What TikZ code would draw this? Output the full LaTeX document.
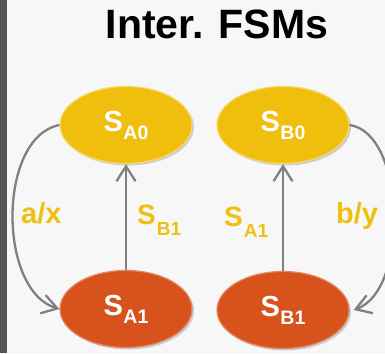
\documentclass[tikz,border=0pt]{standalone}
\usepackage{fontspec}
\setmainfont{Liberation Sans}
\usetikzlibrary{arrows.meta,shadows,shapes.geometric}

\definecolor{pagebg}{HTML}{F7F7F7}
\definecolor{sidebar}{HTML}{555555}
\definecolor{stateyellow}{HTML}{F0BE0C}
\definecolor{stateorange}{HTML}{D8521C}
\definecolor{linkgray}{HTML}{808080}
\definecolor{labelyellow}{HTML}{EFC010}

% state name: big S with a lowered two-letter index
\newcommand\statename[1]{{\fontsize{29}{29}\selectfont S\kern0.5pt\raisebox{-8pt}{\fontsize{19.5}{19.5}\selectfont #1}}}
% condition label: S with a lowered index
\newcommand\condname[1]{{\fontsize{28}{28}\selectfont S\kern1pt\raisebox{-11pt}{\fontsize{19}{19}\selectfont #1}}}
% input/output label
\newcommand\actname[1]{{\fontsize{29}{29}\selectfont #1}}

\tikzset{
  state/.style={ellipse, minimum width=132pt, minimum height=77pt, inner sep=0pt,
    line width=1.2pt, text=white, font=\bfseries,
    drop shadow={opacity=0.35, shadow xshift=2pt, shadow yshift=-2pt}},
  yelstate/.style={state, fill=stateyellow, draw=stateyellow!60!white},
  orastate/.style={state, fill=stateorange, draw=stateorange!70!white},
  link/.style={draw=linkgray, line width=2.3pt,
    -{Straight Barb[length=15pt,width=19pt]}},
  lbl/.style={anchor=base west, inner sep=0pt, text=labelyellow, font=\bfseries}
}

\begin{document}
\begin{tikzpicture}[x=1pt, y=-1pt]
  % page and side bar
  \fill[pagebg] (0,0) rectangle (385,353);
  \fill[sidebar] (0,0) rectangle (6.5,353);
  \useasboundingbox (0,0) rectangle (385,353);

  % title
  \node[anchor=base, inner sep=0pt, font=\bfseries\fontsize{41}{41}\selectfont] (title) at (217,39) {Inter. FSMs};

  % states
  \node[yelstate] (a0) at (126,125) {\statename{A0}};
  \node[yelstate] (b0) at (283,125) {\statename{B0}};
  \node[orastate] (a1) at (126,309) {\statename{A1}};
  \node[orastate] (b1) at (283,310) {\statename{B1}};

  % transitions
  \draw[link] (a1.north) -- (a0.south);
  \draw[link] (b1.north) -- (b0.south);
  \draw[link] (a0.west) .. controls +(-62,12) and +(-62,-18) .. (a1.west);
  \draw[link] (b0.east) .. controls +(56,8) and +(56,-20) .. ([xshift=4pt]b1.east);

  % labels
  \node[lbl] (ax) at (21,223) {\actname{a/x}};
  \node[lbl] (sb1) at (137,224) {\condname{B1}};
  \node[lbl] (sa1) at (224,226) {\condname{A1}};
  \node[lbl] (by) at (336,223) {\actname{b/y}};
\end{tikzpicture}
\end{document}
